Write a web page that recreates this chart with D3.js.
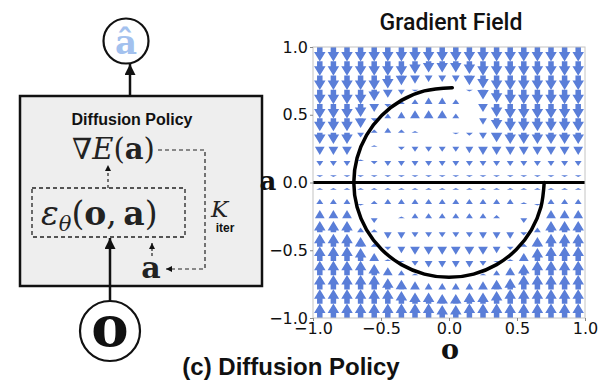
<!DOCTYPE html>
<html>
<head>
<meta charset="utf-8">
<script src="https://cdn.jsdelivr.net/npm/d3@7"></script>
<style>
  body { margin: 0; background: #fff; }
  svg { display: block; }
</style>
</head>
<body>
<svg id="fig" width="598" height="381"></svg>
<script>
// ---- values ----
const xTicks = [-1, -0.5, 0, 0.5, 1];
const yTicks = [-1, -0.5, 0, 0.5, 1];

// arrow grid: observation (columns) and action (rows, top to bottom)
const gridO = [-0.95, -0.85, -0.75, -0.65, -0.55, -0.45, -0.35, -0.25, -0.15, -0.05,
               0.05, 0.15, 0.25, 0.35, 0.45, 0.55, 0.65, 0.75, 0.85, 0.95];
const gridA = [1.0, 0.895, 0.789, 0.684, 0.579, 0.474, 0.368, 0.263, 0.158, 0.053,
               -0.053, -0.158, -0.263, -0.368, -0.474, -0.579, -0.684, -0.789, -0.895, -1.0];

// vertical gradient per grid point, + is up, 9 is the longest arrow
const gradRows = [
  [-9,-9,-9,-9,-9,-9,-9,-9,-9,-9,-9,-9,-9,-9,-9,-9,-9,-9,-9,-9],
  [-9,-9,-9,-9,-9,-9,-9,-8,-7,-7,-7,-8,-9,-9,-9,-9,-9,-9,-9,-9],
  [-9,-9,-9,-9,-9,-8,-6,-5,-4,-4,-4,-6,-8,-9,-9,-9,-9,-9,-9,-9],
  [-9,-9,-9,-9,-7,-5,-3,-1, 0, 1, 0,-1,-6,-8,-9,-9,-9,-9,-9,-9],
  [-9,-9,-9,-8,-5,-2, 2, 3, 4, 4, 3, 0,-5,-8,-9,-9,-9,-9,-9,-9],
  [-8,-8,-8,-6,-2, 3, 4, 5, 5, 5, 3, 0,-4,-7,-8,-8,-8,-8,-8,-8],
  [-7,-7,-7,-3, 2, 3, 2, 1, 0, 0,-1,-2,-4,-6,-7,-7,-7,-7,-7,-7],
  [-5,-5,-5, 0, 1, 0,-2,-3,-3,-3,-3,-4,-5,-5,-5,-5,-5,-5,-5,-5],
  [-3,-3,-3, 1,-2,-3,-3,-3,-3,-3,-3,-3,-3,-3,-3,-3,-3,-3,-3,-3],
  [-1,-1,-1,-1,-1,-1,-1,-1,-1,-1,-1,-1,-1,-1,-1,-1,-1,-1,-1,-1],
  [ 1, 1, 1, 1, 1, 1, 1, 1, 1, 1, 1, 1, 1, 1, 1, 1, 1, 1, 1, 1],
  [ 3, 3, 3,-1, 2, 3, 3, 3, 3, 3, 3, 3, 3, 3, 3, 1,-1, 3, 3, 3],
  [ 5, 5, 5, 0,-3, 0, 1, 3, 3, 3, 3, 3, 3, 2, 0,-3, 0, 5, 5, 5],
  [ 7, 7, 7, 3, 2,-4,-4,-3,-3,-3,-3,-3,-4,-4,-4,-2, 3, 7, 7, 7],
  [ 8, 8, 8, 6, 2,-2,-4,-5,-5,-5,-5,-5,-5,-4,-2, 2, 6, 8, 8, 8],
  [ 9, 9, 9, 8, 5, 1,-1,-3,-4,-4,-4,-4,-3,-1, 1, 5, 8, 9, 9, 9],
  [ 9, 9, 9, 9, 7, 5, 3, 1, 0, 0, 0, 0, 1, 3, 5, 7, 9, 9, 9, 9],
  [ 9, 9, 9, 9, 9, 7, 6, 5, 4, 4, 4, 4, 5, 6, 7, 9, 9, 9, 9, 9],
  [ 9, 9, 9, 9, 9, 9, 8, 7, 7, 6, 6, 7, 7, 8, 9, 9, 9, 9, 9, 9],
  [ 9, 9, 9, 9, 9, 9, 9, 9, 9, 8, 8, 9, 9, 9, 9, 9, 9, 9, 9, 9]
];

// action modes drawn in black
const modeLine = [[-1, 0], [1, 0]];
const modeArc = [
  [0.024, 0.700], [-0.181, 0.676], [-0.350, 0.606], [-0.495, 0.495], [-0.606, 0.350],
  [-0.676, 0.181], [-0.700, 0.000], [-0.676, -0.181], [-0.606, -0.350], [-0.495, -0.495],
  [-0.350, -0.606], [-0.181, -0.676], [0.000, -0.700], [0.181, -0.676], [0.350, -0.606],
  [0.495, -0.495], [0.606, -0.350], [0.676, -0.181], [0.700, 0.000]
];

const svg = d3.select('#fig');
const serif = '"DejaVu Serif", "Liberation Serif", serif';
const sans = 'Roboto, "Liberation Sans", sans-serif';
const arial = '"Liberation Sans", Arial, sans-serif';

// ---------------- left: block diagram ----------------
const defs = svg.append('defs');
const marker = (id, w, h) => defs.append('marker')
  .attr('id', id)
  .attr('viewBox', '0 0 10 10')
  .attr('refX', 10).attr('refY', 5)
  .attr('markerUnits', 'userSpaceOnUse')
  .attr('markerWidth', w).attr('markerHeight', h)
  .attr('orient', 'auto')
  .append('path').attr('d', 'M0,0 L10,5 L0,10 Z').attr('fill', '#111');
marker('bigHead', 11, 11);
marker('smallHead', 6, 6);

const diag = svg.append('g');

diag.append('rect')
  .attr('x', 20).attr('y', 96).attr('width', 242).attr('height', 190)
  .attr('fill', '#eeeeee').attr('stroke', '#111').attr('stroke-width', 2.5);

diag.append('text')
  .attr('x', 132).attr('y', 125).attr('text-anchor', 'middle')
  .style('font-family', arial).style('font-size', '16px').style('font-weight', 'bold')
  .attr('fill', '#111').text('Diffusion Policy');

const grad = diag.append('text')
  .attr('x', 72).attr('y', 159)
  .style('font-family', serif).style('font-size', '29px').attr('fill', '#222');
grad.append('tspan').text('∇');
grad.append('tspan').style('font-style', 'italic').text('E');
grad.append('tspan').text('(');
grad.append('tspan').style('font-weight', 'bold').text('a');
grad.append('tspan').text(')');

diag.append('rect')
  .attr('x', 32).attr('y', 188).attr('width', 153).attr('height', 49)
  .attr('fill', 'none').attr('stroke', '#222').attr('stroke-width', 1.3)
  .attr('stroke-dasharray', '4,3');

const eps = diag.append('text')
  .attr('x', 41).attr('y', 225)
  .style('font-family', serif).style('font-size', '33px').attr('fill', '#222');
eps.append('tspan').style('font-style', 'italic').text('ε');
eps.append('tspan').style('font-style', 'italic').style('font-size', '21px')
  .attr('dy', 6).text('θ');
eps.append('tspan').attr('dy', -6).text('(');
eps.append('tspan').style('font-weight', 'bold').text('o');
eps.append('tspan').text(',\u2009');
eps.append('tspan').style('font-weight', 'bold').text('a');
eps.append('tspan').text(')');

diag.append('text')
  .attr('x', 211).attr('y', 217)
  .style('font-family', serif).style('font-size', '23px').style('font-style', 'italic')
  .attr('fill', '#222').text('K');
diag.append('text')
  .attr('x', 225).attr('y', 232).attr('text-anchor', 'middle')
  .style('font-family', arial).style('font-size', '12px').style('font-weight', 'bold')
  .attr('fill', '#111').text('iter');

diag.append('text')
  .attr('x', 151).attr('y', 278).attr('text-anchor', 'middle')
  .style('font-family', serif).style('font-size', '30px').style('font-weight', 'bold')
  .attr('fill', '#222').text('a');

// dashed loop back to a
diag.append('path')
  .attr('d', 'M158,150 H205 V269 H166')
  .attr('fill', 'none').attr('stroke', '#222').attr('stroke-width', 1.2)
  .attr('stroke-dasharray', '4,3').attr('marker-end', 'url(#smallHead)');
diag.append('path')
  .attr('d', 'M108,188 V165')
  .attr('fill', 'none').attr('stroke', '#222').attr('stroke-width', 1.2)
  .attr('stroke-dasharray', '3,3').attr('marker-end', 'url(#smallHead)');
diag.append('path')
  .attr('d', 'M152,256 V243')
  .attr('fill', 'none').attr('stroke', '#222').attr('stroke-width', 1.2)
  .attr('stroke-dasharray', '3,2').attr('marker-end', 'url(#smallHead)');

// solid arrows
diag.append('path')
  .attr('d', 'M130,96 V64')
  .attr('stroke', '#111').attr('stroke-width', 2.5).attr('marker-end', 'url(#bigHead)');
diag.append('path')
  .attr('d', 'M110,301 V238')
  .attr('stroke', '#111').attr('stroke-width', 2.5).attr('marker-end', 'url(#bigHead)');

// output and input nodes
diag.append('circle').attr('cx', 126).attr('cy', 41).attr('r', 22.5)
  .attr('fill', '#fff').attr('stroke', '#111').attr('stroke-width', 2.2);
diag.append('text')
  .attr('x', 126).attr('y', 54).attr('text-anchor', 'middle')
  .style('font-family', serif).style('font-size', '34px').style('font-weight', 'bold')
  .attr('fill', '#a3c1ee').text('â');

diag.append('circle').attr('cx', 110).attr('cy', 331).attr('r', 30)
  .attr('fill', '#fff').attr('stroke', '#111').attr('stroke-width', 2.2);
diag.append('text')
  .attr('x', 110).attr('y', 346).attr('text-anchor', 'middle')
  .style('font-family', serif).style('font-size', '56px').style('font-weight', 'bold')
  .attr('fill', '#111').text('o');

// ---------------- right: gradient field ----------------
const plot = { left: 313, right: 585, top: 47, bottom: 318 };
const x = d3.scaleLinear().domain([-1, 1]).range([plot.left, plot.right]);
const y = d3.scaleLinear().domain([-1, 1]).range([plot.bottom, plot.top]);

defs.append('clipPath').attr('id', 'plotClip')
  .append('rect')
  .attr('x', plot.left).attr('y', plot.top)
  .attr('width', plot.right - plot.left).attr('height', plot.bottom - plot.top);

const cells = [];
gradRows.forEach((row, j) => row.forEach((v, i) => cells.push({ o: gridO[i], a: gridA[j], v })));

const maxLen = 14.5, headL = 9.5, headW = 11.5, shaftW = 5.5;
const arrowPath = d => {
  const len = Math.abs(d.v) / 9 * maxLen;
  if (len === 0) return null;
  const dir = d.v > 0 ? -1 : 1;
  const x0 = x(d.o), y0 = y(d.a);
  if (len < headL) {
    const hw = headW * Math.max(len / headL, 0.6) / 2;
    return `M${x0 - hw},${y0} L${x0 + hw},${y0} L${x0},${y0 + dir * len} Z`;
  }
  const yb = y0 + dir * (len - headL);
  const sw = shaftW / 2, hw = headW / 2;
  return `M${x0 - sw},${y0} L${x0 + sw},${y0} L${x0 + sw},${yb} L${x0 + hw},${yb}` +
    ` L${x0},${y0 + dir * len} L${x0 - hw},${yb} L${x0 - sw},${yb} Z`;
};

svg.append('g')
  .attr('clip-path', 'url(#plotClip)')
  .selectAll('path')
  .data(cells.filter(d => d.v !== 0))
  .join('path')
  .attr('d', arrowPath)
  .attr('fill', '#5a7ed8');

const line = d3.line().x(d => x(d[0])).y(d => y(d[1]));
svg.append('path')
  .datum(modeLine)
  .attr('d', line)
  .attr('fill', 'none').attr('stroke', '#000').attr('stroke-width', 3);
svg.append('path')
  .datum(modeArc)
  .attr('d', line.curve(d3.curveCatmullRom))
  .attr('fill', 'none').attr('stroke', '#000').attr('stroke-width', 3.5)
  .attr('stroke-linecap', 'round');

// frame
svg.append('rect')
  .attr('x', plot.left).attr('y', plot.top)
  .attr('width', plot.right - plot.left).attr('height', plot.bottom - plot.top)
  .attr('fill', 'none').attr('stroke', '#c4c4c4').attr('stroke-width', 1);

const fmt = d3.format('.1f');
const xAxis = svg.append('g')
  .attr('transform', `translate(0,${plot.bottom})`)
  .call(d3.axisBottom(x).tickValues(xTicks).tickFormat(fmt).tickSize(3).tickPadding(2));
const yAxis = svg.append('g')
  .attr('transform', `translate(${plot.left},0)`)
  .call(d3.axisLeft(y).tickValues(yTicks).tickFormat(fmt).tickSize(3).tickPadding(2));
[xAxis, yAxis].forEach(g => {
  g.select('.domain').remove();
  g.selectAll('line').attr('stroke', '#888');
  g.selectAll('text').attr('fill', '#111')
    .style('font-family', '"DejaVu Sans", sans-serif').style('font-size', '16px');
});

svg.append('text')
  .attr('x', 451).attr('y', 30).attr('text-anchor', 'middle')
  .style('font-family', sans).style('font-size', '23px').style('font-weight', 500)
  .attr('fill', '#111').text('Gradient Field');

svg.append('text')
  .attr('x', 268).attr('y', 190).attr('text-anchor', 'middle')
  .style('font-family', serif).style('font-size', '26px').style('font-weight', 'bold')
  .attr('fill', '#111').text('a');
svg.append('text')
  .attr('x', 450).attr('y', 359).attr('text-anchor', 'middle')
  .style('font-family', serif).style('font-size', '27px').style('font-weight', 'bold')
  .attr('fill', '#111').text('o');

svg.append('text')
  .attr('x', 291).attr('y', 375).attr('text-anchor', 'middle')
  .style('font-family', arial).style('font-size', '24px').style('font-weight', 'bold')
  .attr('fill', '#111').text('(c) Diffusion Policy');
</script>
</body>
</html>
